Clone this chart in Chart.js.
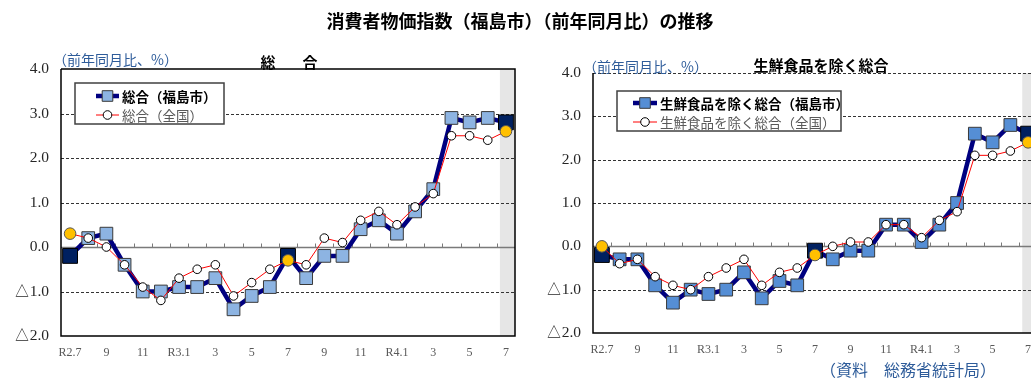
<!DOCTYPE html>
<html lang="ja">
<head>
<meta charset="utf-8">
<title>消費者物価指数（福島市）（前年同月比）の推移</title>
<script src="https://cdn.jsdelivr.net/npm/chart.js@4.4.1/dist/chart.umd.min.js"></script>
<style>
  html, body { margin:0; padding:0; background:#fff; overflow:hidden; }
  body { width:1031px; height:383px; position:relative; font-family:"Noto Sans CJK JP", sans-serif; }
  canvas { position:absolute; top:0; }
  #cv-all { left:0; }
  #cv-core { left:520px; }
  .txt { position:absolute; white-space:nowrap; line-height:1; }
  #title { left:0; width:1040px; top:11px; text-align:center; font-size:18px; font-weight:bold; color:#000; }
  .sub { font-size:15px; font-weight:bold; color:#000; transform:translateX(-50%); }
  .unit { font-size:14px; color:#2e5c9a; }
  #src { left:820px; top:361px; font-size:16px; color:#2e5c9a; }
</style>
</head>
<body>
<canvas id="cv-all" width="530" height="383"></canvas>
<canvas id="cv-core" width="530" height="383"></canvas>

<div class="txt" id="title">消費者物価指数（福島市）（前年同月比）の推移</div>
<div class="txt sub" style="left:292px; top:54px; letter-spacing:6px;">総　合</div>
<div class="txt sub" style="left:821px; top:57px;">生鮮食品を除く総合</div>
<div class="txt unit" style="left:53px; top:52px;">（前年同月比、%）</div>
<div class="txt unit" style="left:583px; top:59px;">（前年同月比、%）</div>
<div class="txt" id="src">（資料　総務省統計局）</div>

<script>
// R2.7 〜 R4.7
const months = ['R2.7','8','9','10','11','12','R3.1','2','3','4','5','6','7','8','9','10','11','12','R4.1','2','3','4','5','6','7'];

// 総合
const allFukushima = [-0.2, 0.2, 0.3, -0.4, -1.0, -1.0, -0.9, -0.9, -0.7, -1.4, -1.1, -0.9, -0.2, -0.7, -0.2, -0.2, 0.4, 0.6, 0.3, 0.8, 1.3, 2.9, 2.8, 2.9, 2.8];
const allJapan     = [0.3, 0.2, 0.0, -0.4, -0.9, -1.2, -0.7, -0.5, -0.4, -1.1, -0.8, -0.5, -0.3, -0.4, 0.2, 0.1, 0.6, 0.8, 0.5, 0.9, 1.2, 2.5, 2.5, 2.4, 2.6];

// 生鮮食品を除く総合
const coreFukushima = [-0.2, -0.3, -0.3, -0.9, -1.3, -1.0, -1.1, -1.0, -0.6, -1.2, -0.8, -0.9, -0.1, -0.3, -0.1, -0.1, 0.5, 0.5, 0.1, 0.5, 1.0, 2.6, 2.4, 2.8, 2.6];
const coreJapan     = [0.0, -0.4, -0.3, -0.7, -0.9, -1.0, -0.7, -0.5, -0.3, -0.9, -0.6, -0.5, -0.2, 0.0, 0.1, 0.1, 0.5, 0.5, 0.2, 0.6, 0.8, 2.1, 2.1, 2.2, 2.4];

// 前年同月（R2.7, R3.7, R4.7）は色を変える
const marked = [0, 12, 24];
const isMarked = i => marked.includes(i);

const yTicks = [-2, -1, 0, 1, 2, 3, 4];

function fmtY(v) {
  return v < 0 ? '△' + Math.abs(v).toFixed(1) : v.toFixed(1);
}

// 背景の網掛け・罫線・枠
const framePlugin = {
  id: 'frame',
  beforeDatasetsDraw(chart, args, opts) {
    const { ctx, chartArea: a, scales: { x, y } } = chart;
    const step = x.getPixelForValue(1) - x.getPixelForValue(0);
    ctx.save();

    const bx = x.getPixelForValue(months.length - 1) - step * 0.33;
    ctx.fillStyle = '#e6e6e6';
    ctx.fillRect(bx, a.top, a.right - bx, a.bottom - a.top);

    const hline = (py) => {
      ctx.beginPath(); ctx.moveTo(a.left, py); ctx.lineTo(a.right, py); ctx.stroke();
    };

    ctx.strokeStyle = '#333';
    ctx.lineWidth = 1;
    ctx.setLineDash([3, 2]);
    opts.dashed.forEach(v => hline(Math.round(y.getPixelForValue(v)) + 0.5));
    ctx.setLineDash([]);

    const y0 = Math.round(y.getPixelForValue(0)) + 0.5;
    ctx.strokeStyle = '#7a7a7a';
    ctx.lineWidth = 1.5;
    hline(y0);
    ctx.lineWidth = 1;
    for (let i = 1; i < months.length; i++) {
      const px = Math.round(x.getPixelForValue(i) - step / 2) + 0.5;
      ctx.beginPath(); ctx.moveTo(px, y0); ctx.lineTo(px, y0 - 4); ctx.stroke();
    }

    ctx.strokeStyle = '#000';
    ctx.lineWidth = 1.5;
    ctx.beginPath();
    ctx.moveTo(a.left, a.top); ctx.lineTo(a.left, a.bottom); ctx.lineTo(a.right, a.bottom);
    if (opts.box) { ctx.lineTo(a.right, a.top); ctx.lineTo(a.left, a.top); }
    ctx.stroke();
    ctx.restore();
  }
};

// 凡例（枠付き、グラフ内）
const boxLegend = {
  id: 'boxLegend',
  afterDraw(chart, args, o) {
    const { ctx } = chart;
    ctx.save();
    ctx.fillStyle = '#fff';
    ctx.fillRect(o.x, o.y, o.w, o.h);
    ctx.strokeStyle = '#404040';
    ctx.lineWidth = 1.5;
    ctx.strokeRect(o.x, o.y, o.w, o.h);

    o.rows.forEach((r, k) => {
      const ds = chart.data.datasets[r.index];
      const ry = o.y + o.rowY[k];
      ctx.strokeStyle = ds.borderColor;
      ctx.lineWidth = ds.borderWidth;
      ctx.beginPath(); ctx.moveTo(o.x + o.lineFrom, ry); ctx.lineTo(o.x + o.lineTo, ry); ctx.stroke();
      ctx.fillStyle = r.fill;
      ctx.strokeStyle = r.stroke;
      ctx.lineWidth = 1;
      Chart.helpers.drawPoint(ctx, { pointStyle: ds.pointStyle, rotation: 0, radius: r.radius, borderWidth: 1 },
        o.x + (o.lineFrom + o.lineTo) / 2, ry);
      ctx.font = (r.bold ? 'bold ' : '') + '13.5px "Noto Sans CJK JP"';
      ctx.fillStyle = r.color;
      ctx.textBaseline = 'middle';
      ctx.fillText(ds.label, o.x + o.textX, ry + 1);
    });
    ctx.restore();
  }
};

function buildChart(id, labelLocal, labelJapan, local, japan, squareFill, layout, legend) {
  return new Chart(document.getElementById(id), {
    type: 'line',
    data: {
      labels: months,
      datasets: [
        {
          label: labelLocal,
          data: local,
          order: 2,
          borderColor: '#000080',
          borderWidth: 4.5,
          pointStyle: 'rect',
          pointRadius: local.map((v, i) => isMarked(i) ? 10.5 : 9),
          pointBackgroundColor: local.map((v, i) => isMarked(i) ? '#002060' : squareFill),
          pointBorderColor: local.map((v, i) => isMarked(i) ? '#000' : '#3a3a3a'),
          pointBorderWidth: 1,
          tension: 0,
          clip: false
        },
        {
          label: labelJapan,
          data: japan,
          order: 1,
          borderColor: '#ff0000',
          borderWidth: 1,
          pointStyle: 'circle',
          pointRadius: japan.map((v, i) => isMarked(i) ? 5.8 : 4.3),
          pointBackgroundColor: japan.map((v, i) => isMarked(i) ? '#ffc000' : '#fff'),
          pointBorderColor: japan.map((v, i) => isMarked(i) ? '#555' : '#000'),
          pointBorderWidth: 1,
          tension: 0,
          clip: false
        }
      ]
    },
    options: {
      responsive: false,
      animation: false,
      events: [],
      layout: { padding: layout.padding },
      scales: {
        x: {
          offset: true,
          grid: { display: false, drawTicks: false },
          border: { display: false },
          afterFit: s => { s.height = 30; s.paddingLeft = 0; s.paddingRight = 0; },
          ticks: {
            autoSkip: false,
            maxRotation: 0,
            padding: 10,
            color: '#595959',
            font: { family: '"Liberation Serif", serif', size: 12 },
            callback: (v, i) => i % 2 === 0 ? months[i] : ''
          }
        },
        y: {
          min: -2,
          max: 4,
          grid: { display: false, drawTicks: false },
          border: { display: false },
          afterFit: s => { s.width = layout.axisWidth; },
          afterBuildTicks: s => { s.ticks = yTicks.map(v => ({ value: v })); },
          ticks: {
            padding: 12,
            color: '#262626',
            font: { family: '"Liberation Serif", serif', size: 15.5 },
            callback: v => fmtY(v)
          }
        }
      },
      plugins: {
        legend: { display: false },
        tooltip: { enabled: false },
        frame: layout.frame,
        boxLegend: legend
      }
    },
    plugins: [framePlugin, boxLegend]
  });
}

buildChart('cv-all', '総合（福島市）', '総合（全国）', allFukushima, allJapan, '#8db4e2',
  { padding: { left: 0, top: 69, right: 15, bottom: 17 }, axisWidth: 61, frame: { dashed: [-1, 1, 2, 3], box: true } },
  {
    x: 75, y: 83, w: 149, h: 41, rowY: [13, 32], lineFrom: 21, lineTo: 44, textX: 47,
    rows: [
      { index: 0, bold: true, color: '#000', fill: '#8db4e2', stroke: '#3a3a3a', radius: 7.5 },
      { index: 1, bold: false, color: '#595959', fill: '#fff', stroke: '#000', radius: 4.3 }
    ]
  });

buildChart('cv-core', '生鮮食品を除く総合（福島市）', '生鮮食品を除く総合（全国）', coreFukushima, coreJapan, '#558ed5',
  { padding: { left: 0, top: 73, right: 13, bottom: 20 }, axisWidth: 73, frame: { dashed: [-1, 1, 2, 3, 4], box: false } },
  {
    x: 97, y: 91, w: 224, h: 40, rowY: [12, 31], lineFrom: 16, lineTo: 40, textX: 43,
    rows: [
      { index: 0, bold: true, color: '#000', fill: '#558ed5', stroke: '#3a3a3a', radius: 7.5 },
      { index: 1, bold: false, color: '#595959', fill: '#fff', stroke: '#000', radius: 4.3 }
    ]
  });
</script>
</body>
</html>
